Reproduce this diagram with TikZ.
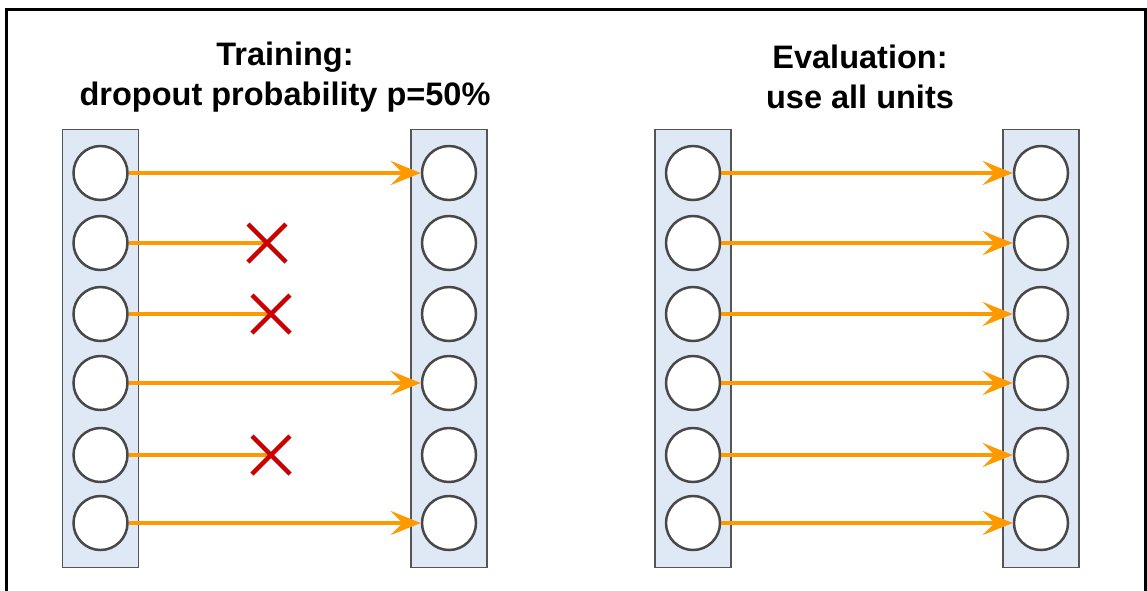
\documentclass[tikz,border=0pt]{standalone}
\usepackage{fontspec}
\setmainfont{Liberation Sans}
\usetikzlibrary{arrows.meta,calc}
\definecolor{colfill}{HTML}{DFE9F5}
\definecolor{colline}{HTML}{555555}
\definecolor{arrowc}{HTML}{FF9900}
\definecolor{crossc}{HTML}{CC0000}
\begin{document}
\begin{tikzpicture}[x=1pt,y=-1pt,
  layerbox/.style={draw=colline,fill=colfill,line width=1.5pt,minimum width=76pt,minimum height=438pt,inner sep=0pt},
  unit/.style={circle,draw=colline!85!black,fill=white,line width=2.5pt,minimum size=54pt,inner sep=0pt},
  conn/.style={draw=arrowc,line width=4pt,-{Stealth[length=30pt,width=24pt,inset=12pt]}},
  dropc/.style={draw=arrowc,line width=4pt},
  crossline/.style={draw=crossc,line width=4.5pt},
  title/.style={font=\bfseries\fontsize{32.5}{40}\selectfont,align=center}]
\useasboundingbox (0,0) rectangle (1147,590);
\draw[line width=3pt] (6,620) -- (6,9) -- (1145,9) -- (1145,620);
\node[title] (t1) at (285,77) {Training:\\dropout probability p=50\%};
\node[title] (t2) at (860,77) {Evaluation:\\use all units};
\node[layerbox] (L1) at (100.5,348.5) {};
\node[layerbox] (R1) at (449,348.5) {};
\node[layerbox] (L2) at (693,348.5) {};
\node[layerbox] (R2) at (1041,348.5) {};
\foreach \i/\y in {1/173,2/243,3/314,4/383,5/455,6/523}{
  \node[unit] (a\i) at (100.5,\y) {};
  \node[unit] (b\i) at (449,\y) {};
  \node[unit] (c\i) at (693,\y) {};
  \node[unit] (d\i) at (1041,\y) {};
  \draw[conn] (c\i) -- (d\i);
}
\draw[conn] (a1) -- (b1);
\draw[conn] (a4) -- (b4);
\draw[conn] (a6) -- (b6);
\coordinate (x2) at (267,243);
\coordinate (x3) at (271,314);
\coordinate (x5) at (271,455);
\foreach \k in {2,3,5}{
  \draw[dropc] (a\k) -- (x\k);
  \draw[crossline] ($(x\k)+(-19,-19)$) -- ($(x\k)+(19,19)$);
  \draw[crossline] ($(x\k)+(-19,19)$) -- ($(x\k)+(19,-19)$);
}
\end{tikzpicture}
\end{document}
